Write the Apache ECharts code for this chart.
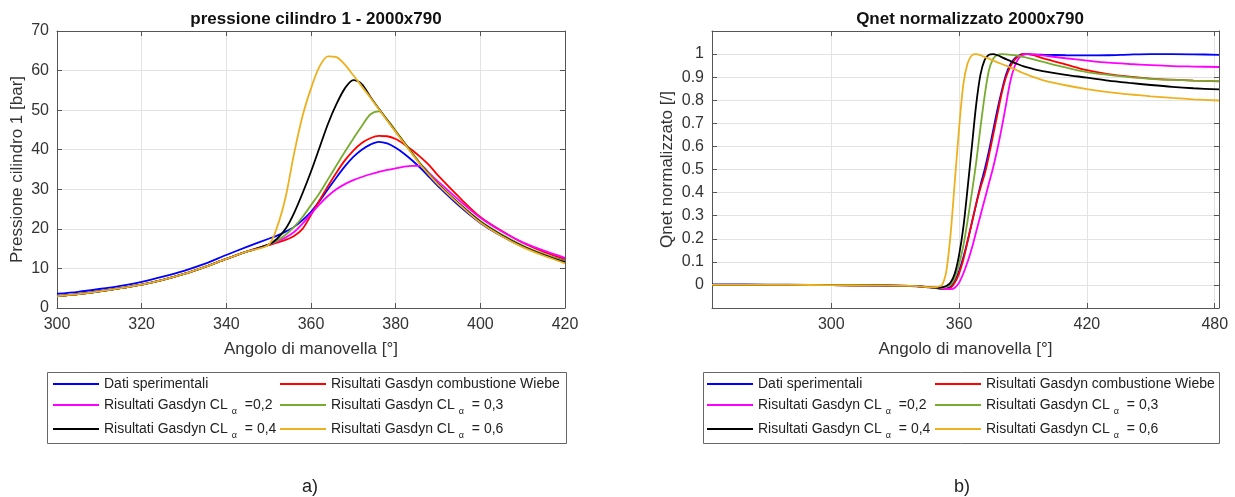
<!DOCTYPE html>
<html>
<head>
<meta charset="utf-8">
<script src="https://cdn.jsdelivr.net/npm/echarts@6/dist/echarts.min.js"></script>
<style>
html,body{margin:0;padding:0;background:#fff;}
#chart{width:1235px;height:497px;}
</style>
</head>
<body>
<div id="chart"></div>
<script>
// ---------- DATA ----------
const seriesNames = [
  'Dati sperimentali',
  'Risultati Gasdyn combustione Wiebe',
  'Risultati Gasdyn CLα =0,2',
  'Risultati Gasdyn CLα = 0,3',
  'Risultati Gasdyn CLα = 0,4',
  'Risultati Gasdyn CLα = 0,6'
];
const seriesColors = ['#0000ff', '#ff0000', '#ff00ff', '#77ac30', '#000000', '#edb120'];

// (a) pressione cilindro 1 [bar] vs angolo di manovella
const pAngles = [300,305,310,315,320,325,330,335,340,345,350,352,354,356,358,360,362,364,366,368,370,372,374,376,378,380,382,384,386,388,390,395,400,405,410,415,420];
const pDati  = [3.6,4.1,4.8,5.6,6.6,7.9,9.4,11.2,13.4,15.5,17.5,18.3,19.3,20.5,22.2,24.3,27,30,33,35.8,38.2,40,41.3,42,41.6,40.5,39,37.2,35.2,33,30.8,25.8,21.5,18.2,15.5,13.5,11.9];
const pWiebe = [3.0,3.5,4.2,5.0,5.9,7.1,8.6,10.4,12.4,14.3,15.9,16.5,17.2,18.2,20,23.5,27.2,30.8,34.2,37.3,39.8,41.7,42.9,43.5,43.4,42.7,41.4,39.8,38,36,33.5,28,23,19.5,16.5,14.2,12.4];
const pCL02  = [3.0,3.5,4.2,5.0,5.9,7.1,8.6,10.4,12.4,14.3,16,16.8,17.8,19.2,21.3,23.8,26.2,28.3,30,31.3,32.3,33.1,33.8,34.4,34.9,35.3,35.7,35.9,35.9,34,32,27.2,22.8,19.4,16.6,14.5,12.7];
const pCL03  = [3.0,3.5,4.2,5.0,5.9,7.1,8.6,10.4,12.4,14.3,16,17,18.5,20.5,23,26,29,32.5,36,39.5,42.8,46,48.9,49.7,47.6,44.8,41.9,39.1,36.3,33.8,31.4,26.4,22,18.6,15.8,13.6,11.8];
const pCL04  = [3.0,3.5,4.2,5.0,5.9,7.1,8.6,10.4,12.4,14.3,16,17.5,20,24,29,34.5,40.5,46.5,51.5,55.5,57.6,56.6,53.4,50.4,47.5,44.6,41.8,38.9,36.1,33.6,31.3,26.3,21.8,18.4,15.6,13.4,11.6];
const pCL06  = [3.0,3.5,4.2,5.0,5.9,7.1,8.6,10.4,12.4,14.3,16,20.5,28,39,48.5,55.5,61,63.6,63.4,61.5,58.8,56,53.2,50.3,47.4,44.5,41.7,38.8,36.0,33.5,31.2,26.2,21.6,18.2,15.4,13.2,11.3];

// (b) Qnet normalizzato vs angolo di manovella
const qAngles = [244,260,280,300,320,340,346,350,352,354,356,358,360,362,364,366,368,370,372,374,376,378,380,382,384,386,388,390,392,395,400,410,420,430,440,450,460,470,482];
const qDati  = [0.002,0.002,0.001,0,-0.002,-0.006,-0.011,-0.015,-0.018,-0.016,-0.008,0.02,0.06,0.12,0.19,0.27,0.35,0.43,0.5,0.58,0.67,0.76,0.84,0.91,0.955,0.98,0.994,1.0,1.0,0.998,0.997,0.995,0.994,0.995,0.998,1.0,1.0,0.999,0.997];
const qWiebe = [0,0,0,-0.001,-0.002,-0.005,-0.01,-0.014,-0.016,-0.017,-0.013,0.01,0.05,0.11,0.19,0.27,0.35,0.42,0.48,0.56,0.65,0.74,0.83,0.9,0.945,0.975,0.992,1.0,1.0,0.995,0.98,0.955,0.93,0.913,0.902,0.894,0.889,0.885,0.882];
const qCL02  = [0,0,0,-0.001,-0.002,-0.005,-0.01,-0.013,-0.016,-0.018,-0.018,-0.012,0.01,0.05,0.1,0.16,0.23,0.3,0.37,0.44,0.51,0.59,0.68,0.78,0.88,0.945,0.982,0.996,1.0,0.999,0.993,0.982,0.972,0.963,0.957,0.952,0.948,0.946,0.944];
const qCL03  = [0,0,0,-0.001,-0.002,-0.005,-0.01,-0.014,-0.013,-0.008,0,0.03,0.09,0.17,0.28,0.4,0.53,0.68,0.82,0.93,0.98,0.997,1.0,0.999,0.997,0.995,0.992,0.988,0.984,0.977,0.965,0.942,0.922,0.91,0.9,0.893,0.888,0.885,0.883];
const qCL04  = [0,0,0,-0.001,-0.002,-0.005,-0.01,-0.013,-0.01,-0.005,0.01,0.05,0.13,0.25,0.42,0.6,0.78,0.91,0.975,0.997,1.0,0.995,0.987,0.978,0.97,0.962,0.955,0.948,0.942,0.935,0.925,0.91,0.898,0.885,0.875,0.866,0.858,0.852,0.847];
const qCL06  = [0,0,0,-0.001,-0.002,-0.005,-0.01,-0.008,0,0.06,0.22,0.45,0.68,0.87,0.96,0.995,1.0,0.995,0.988,0.98,0.972,0.964,0.957,0.95,0.942,0.935,0.926,0.918,0.911,0.9,0.885,0.865,0.848,0.835,0.825,0.817,0.81,0.804,0.799];

const qXTicks = [300, 360, 420, 480];

const pSeries = [pDati, pWiebe, pCL02, pCL03, pCL04, pCL06];
const qSeries = [qDati, qWiebe, qCL02, qCL03, qCL04, qCL06];

// ---------- STYLE ----------
const FONT = '"Liberation Sans", Arial, Helvetica, sans-serif';
const AXIS_COLOR = '#555555';
const LABEL_COLOR = '#333333';
const GRID_COLOR = '#e3e3e3';

function mainX(grid, min, max, extra) {
  return Object.assign({
    type: 'value', gridIndex: grid, min: min, max: max, position: 'bottom',
    name: 'Angolo di manovella [°]', nameLocation: 'middle', nameGap: 33,
    nameTextStyle: { fontFamily: FONT, fontSize: 17, color: LABEL_COLOR },
    axisLine: { show: true, onZero: false, lineStyle: { color: AXIS_COLOR, width: 1 } },
    axisTick: { show: true, inside: true, length: 5, lineStyle: { color: AXIS_COLOR } },
    axisLabel: { fontFamily: FONT, fontSize: 16, color: LABEL_COLOR, margin: 9 },
    splitLine: { show: true, lineStyle: { color: GRID_COLOR, width: 1 } }
  }, extra || {});
}
function mirrorX(grid, min, max, extra) {
  return Object.assign({
    type: 'value', gridIndex: grid, min: min, max: max, position: 'top',
    axisLine: { show: true, onZero: false, lineStyle: { color: AXIS_COLOR, width: 1 } },
    axisTick: { show: true, inside: true, length: 5, lineStyle: { color: AXIS_COLOR } },
    axisLabel: { show: false }, splitLine: { show: false }
  }, extra || {});
}
function mainY(grid, min, max, interval, name, nameGap, fmt) {
  return {
    type: 'value', gridIndex: grid, min: min, max: max, interval: interval, position: 'left',
    name: name, nameLocation: 'middle', nameGap: nameGap,
    nameTextStyle: { fontFamily: FONT, fontSize: 17, color: LABEL_COLOR },
    axisLine: { show: true, onZero: false, lineStyle: { color: AXIS_COLOR, width: 1 } },
    axisTick: { show: true, inside: true, length: 5, lineStyle: { color: AXIS_COLOR } },
    axisLabel: { fontFamily: FONT, fontSize: 16, color: LABEL_COLOR, margin: 8, formatter: fmt },
    splitLine: { show: true, lineStyle: { color: GRID_COLOR, width: 1 } }
  };
}
function mirrorY(grid, min, max, interval) {
  return {
    type: 'value', gridIndex: grid, min: min, max: max, interval: interval, position: 'right',
    axisLine: { show: true, onZero: false, lineStyle: { color: AXIS_COLOR, width: 1 } },
    axisTick: { show: true, inside: true, length: 5, lineStyle: { color: AXIS_COLOR } },
    axisLabel: { show: false }, splitLine: { show: false }
  };
}

const qYFormatter = function (v) {
  const r = Math.round(v * 10);
  if (r < 0 || r > 10) return '';
  if (r === 0) return '0';
  if (r === 10) return '1';
  return (r / 10).toFixed(1);
};

const series = [];
seriesNames.forEach(function (n, i) {
  series.push({
    type: 'line', name: n, xAxisIndex: 0, yAxisIndex: 0,
    data: pAngles.map(function (a, j) { return [a, pSeries[i][j]]; }),
    showSymbol: false, symbol: 'none', smooth: 0.3,
    lineStyle: { color: seriesColors[i], width: 1.8 }, itemStyle: { color: seriesColors[i] },
    z: 2 + i
  });
  series.push({
    type: 'line', name: n, xAxisIndex: 2, yAxisIndex: 2,
    data: qAngles.map(function (a, j) { return [a, qSeries[i][j]]; }),
    showSymbol: false, symbol: 'none', smooth: 0.3,
    lineStyle: { color: seriesColors[i], width: 1.8 }, itemStyle: { color: seriesColors[i] },
    z: 2 + i
  });
});

// legends: one per entry, laid out in 2 columns x 3 rows inside each box
const legendCols = [[53, 280], [707, 935]];
const legendRows = [384, 405, 429];
const legendOrder = [[0, 1], [2, 3], [4, 5]];
const legends = [];
legendCols.forEach(function (cols) {
  legendOrder.forEach(function (row, r) {
    row.forEach(function (si, c) {
      legends.push({
        data: [seriesNames[si]], left: cols[c], top: legendRows[r] - 11,
        orient: 'vertical', padding: 0, selectedMode: false,
        icon: 'rect', itemWidth: 46, itemHeight: 2, itemGap: 0,
        formatter: function (name) { return name.replace('CLα', 'CL{s|α}'); },
        textStyle: {
          fontFamily: FONT, fontSize: 14, color: '#222', lineHeight: 22,
          rich: { s: { fontFamily: FONT, fontSize: 9, color: '#222', verticalAlign: 'bottom', lineHeight: 22, padding: [0, 4, 0, 4] } }
        }
      });
    });
  });
});

const option = {
  animation: false,
  backgroundColor: '#ffffff',
  title: [
    { text: 'pressione cilindro 1 - 2000x790', left: 311, top: 6, textAlign: 'center',
      textStyle: { fontFamily: FONT, fontSize: 17, fontWeight: 'bold', color: '#111' } },
    { text: 'Qnet normalizzato 2000x790', left: 965, top: 6, textAlign: 'center',
      textStyle: { fontFamily: FONT, fontSize: 17, fontWeight: 'bold', color: '#111' } },
    { text: 'a)', left: 305, top: 473, textAlign: 'center',
      textStyle: { fontFamily: FONT, fontSize: 18, fontWeight: 'normal', color: '#222' } },
    { text: 'b)', left: 957, top: 473, textAlign: 'center',
      textStyle: { fontFamily: FONT, fontSize: 18, fontWeight: 'normal', color: '#222' } }
  ],
  grid: [
    { left: 57, right: 1235 - 565, top: 31, bottom: 497 - 308 },
    { left: 712, right: 1235 - 1219, top: 31, bottom: 497 - 308 }
  ],
  xAxis: [
    mainX(0, 300, 420, { interval: 20 }),
    mirrorX(0, 300, 420, { interval: 20 }),
    mainX(1, 244, 482, {
      axisTick: { show: true, inside: true, length: 5, lineStyle: { color: AXIS_COLOR }, customValues: qXTicks },
      axisLabel: { fontFamily: FONT, fontSize: 16, color: LABEL_COLOR, margin: 9, customValues: qXTicks }
    }),
    mirrorX(1, 244, 482, {
      axisTick: { show: true, inside: true, length: 5, lineStyle: { color: AXIS_COLOR }, customValues: qXTicks }
    })
  ],
  yAxis: [
    mainY(0, 0, 70, 10, 'Pressione cilindro 1 [bar]', 31, null),
    mirrorY(0, 0, 70, 10),
    mainY(1, -0.1, 1.1, 0.1, 'Qnet normalizzato [/]', 36, qYFormatter),
    mirrorY(1, -0.1, 1.1, 0.1)
  ],
  legend: legends,
  graphic: [
    { type: 'rect', shape: { x: 47.5, y: 372.5, width: 519, height: 71 },
      style: { fill: 'none', stroke: '#666', lineWidth: 1 }, silent: true },
    { type: 'rect', shape: { x: 703.5, y: 372.5, width: 516, height: 71 },
      style: { fill: 'none', stroke: '#666', lineWidth: 1 }, silent: true }
  ],
  series: series
};

const chart = echarts.init(document.getElementById('chart'), null, { renderer: 'canvas' });
chart.setOption(option);
</script>
</body>
</html>
